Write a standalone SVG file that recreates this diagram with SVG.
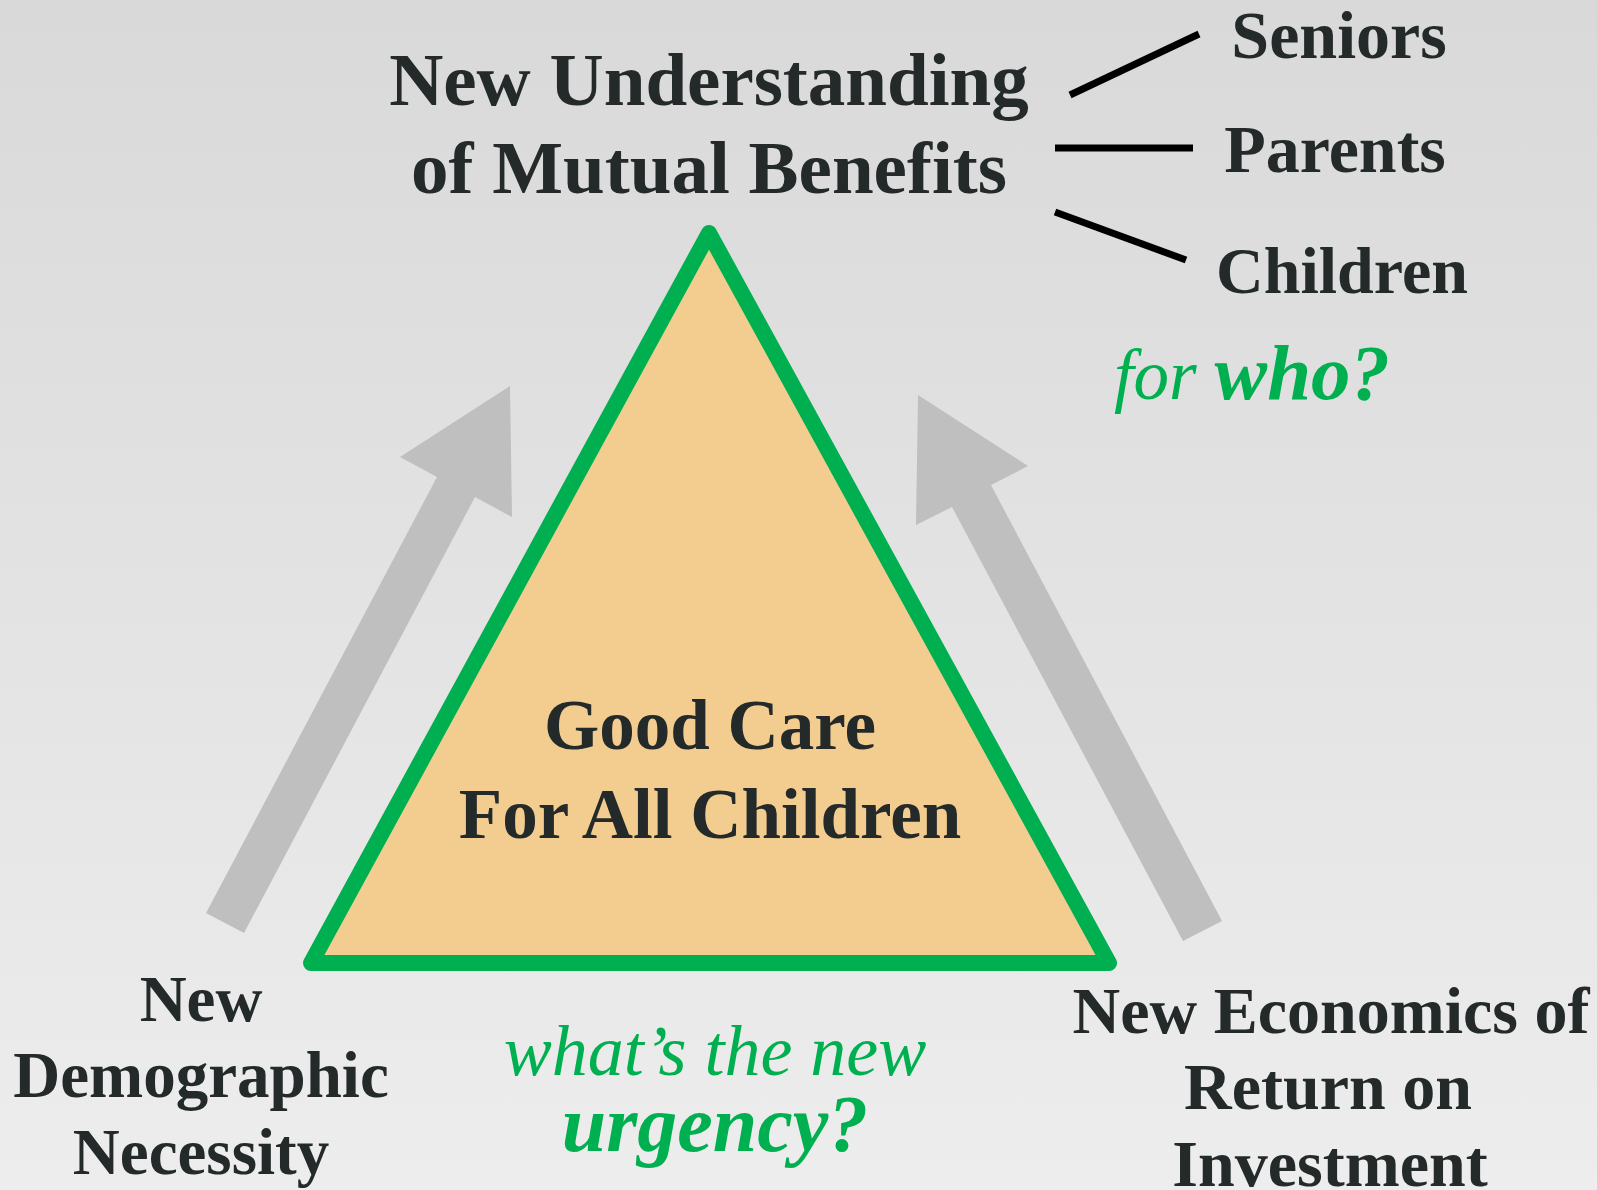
<svg xmlns="http://www.w3.org/2000/svg" width="1597" height="1190" viewBox="0 0 1597 1190">
  <defs>
    <linearGradient id="bg" x1="0" y1="0" x2="0" y2="1">
      <stop offset="0" stop-color="#D9D9D9"/>
      <stop offset="1" stop-color="#EDEDED"/>
    </linearGradient>
  </defs>
  <style>
    .t { font-family: "Liberation Serif", "DejaVu Serif", serif; font-weight: bold; fill: #242A2A; text-anchor: middle; }
    .g { font-family: "Liberation Serif", "DejaVu Serif", serif; font-style: italic; fill: #00B050; text-anchor: middle; }
    .gb { font-weight: bold; }
    .line { stroke: #000000; stroke-width: 7; fill: none; }
    .arrow { fill: #BFBFBF; }
  </style>
  <rect x="0" y="0" width="1597" height="1190" fill="url(#bg)"/>

  <g id="connectors">
    <polygon class="arrow" points="510,386 512,517 475,497 244,933 206,913 437,477 400,457"/>
    <polygon class="arrow" points="918,395 1028,466 991,485 1222,921 1183,941 952,507 916,525"/>
    <line class="line" x1="1070" y1="95" x2="1199" y2="34"/>
    <line class="line" x1="1055" y1="148" x2="1193" y2="148"/>
    <line class="line" x1="1055" y1="212" x2="1186" y2="260"/>
  </g>

  <g id="node-good-care">
    <polygon points="709,233 1109,963 311,963" fill="#F3CD8F" stroke="#00B050" stroke-width="16" stroke-linejoin="round"/>
    <text class="t" x="710" y="749" font-size="71">Good Care</text>
    <text class="t" x="710" y="838" font-size="71">For All Children</text>
  </g>

  <g id="node-mutual-benefits">
    <text class="t" x="709" y="105" font-size="75">New Understanding</text>
    <text class="t" x="709" y="193" font-size="75">of Mutual Benefits</text>
  </g>

  <g id="node-seniors">
    <text class="t" x="1339" y="58" font-size="68">Seniors</text>
  </g>
  <g id="node-parents">
    <text class="t" x="1335" y="172" font-size="68">Parents</text>
  </g>
  <g id="node-children">
    <text class="t" x="1342" y="293" font-size="66">Children</text>
  </g>

  <g id="node-for-who">
    <text class="g" x="1252" y="399" font-size="71">for <tspan class="gb" font-size="79">who?</tspan></text>
  </g>

  <g id="node-demographic">
    <text class="t" x="201" y="1021" font-size="65">New</text>
    <text class="t" x="201" y="1097" font-size="65">Demographic</text>
    <text class="t" x="201" y="1174" font-size="65">Necessity</text>
  </g>

  <g id="node-economics">
    <text class="t" x="1331" y="1033" font-size="66">New Economics of</text>
    <text class="t" x="1328" y="1109" font-size="66">Return on</text>
    <text class="t" x="1330" y="1186" font-size="66">Investment</text>
  </g>

  <g id="node-urgency">
    <text class="g" x="715" y="1075" font-size="72">what’s the new</text>
    <text class="g gb" x="715" y="1151" font-size="80">urgency?</text>
  </g>
</svg>
